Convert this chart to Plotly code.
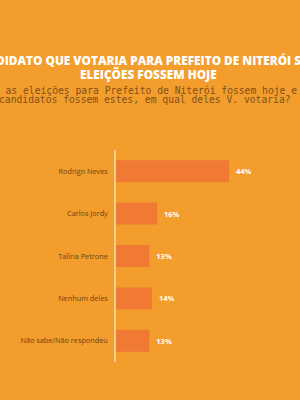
import plotly.graph_objects as go

categories = ["Rodrigo Neves", "Carlos Jordy", "Talíria Petrone", "Nenhum deles", "Não sabe/Não respondeu"]
values = [44, 16, 13, 14, 13]
value_labels = ["44%", "16%", "13%", "14%", "13%"]

title_lines = ["CANDIDATO QUE VOTARIA PARA PREFEITO DE NITERÓI SE AS", "ELEIÇÕES FOSSEM HOJE"]
subtitle_lines = ["Se as eleições para Prefeito de Niterói fossem hoje e os",
                  "candidatos fossem estes, em qual deles V. votaria?"]

BG = "#F39D2C"
BAR = "#F07A33"

fig = go.Figure(go.Bar(
    y=categories, x=values, orientation="h",
    marker=dict(color=BAR, line=dict(width=0)),
    text=value_labels, textposition="outside",
    texttemplate="  %{text}",
    textfont=dict(family="Open Sans", size=7.5, color="white", weight="bold"),
    cliponaxis=False,
))

fig.update_layout(
    width=300, height=400,
    paper_bgcolor=BG, plot_bgcolor=BG,
    margin=dict(l=116, r=0, t=150, b=38),
    showlegend=False,
    bargap=0.48,
    xaxis=dict(range=[0, 71.6], visible=False, fixedrange=True),
    yaxis=dict(autorange="reversed", showgrid=False, zeroline=False,
               showline=True, linecolor="#F8D08E", linewidth=1.5,
               ticks="", ticklabelstandoff=5,
               tickfont=dict(family="Open Sans", size=7.3, color="#6B4416")),
)

title_y = [60, 74]
for line, yy in zip(title_lines, title_y):
    fig.add_annotation(text=line, xref="paper", yref="paper",
                       x=(148 - 116) / 184, y=(400 - 38 - yy) / 212,
                       xanchor="center", yanchor="middle", showarrow=False,
                       font=dict(family="Open Sans", size=11.8, color="white", weight=800))

sub_y = [90, 99.5]
sub_x = [151, 145]
for line, yy, xx in zip(subtitle_lines, sub_y, sub_x):
    fig.add_annotation(text=line, xref="paper", yref="paper",
                       x=(xx - 116) / 184, y=(400 - 38 - yy) / 212,
                       xanchor="center", yanchor="middle", showarrow=False,
                       font=dict(family="DejaVu Sans Mono", size=9.7, color="#80501A"))

fig.write_html("out.html")
